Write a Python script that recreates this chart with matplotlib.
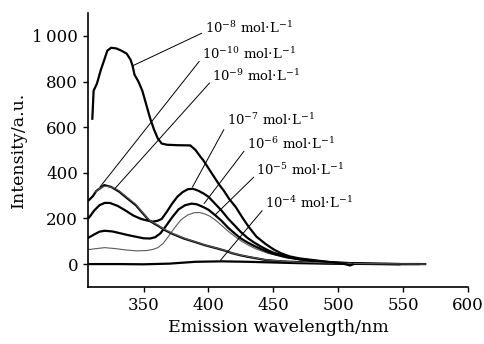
import matplotlib
matplotlib.use("Agg")
import matplotlib.pyplot as plt

# emission spectra (wavelength in nm, intensity in a.u.)
x_1e8 = [310.5, 311.5, 314, 317, 320, 322, 325, 329, 333, 337, 340, 341.5, 343, 346, 349,
         352, 355, 358, 361, 364, 368, 376, 386, 390, 394, 396, 400, 404, 408, 412, 416,
         421, 426, 431, 437, 444, 450, 456, 463, 470, 480, 490, 500, 505, 509, 511]
y_1e8 = [637, 760, 790, 850, 900, 935, 948, 945, 935, 922, 895, 869, 830, 800, 760,
         700, 640, 590, 550, 528, 523, 521, 520, 500, 469, 455, 420, 385, 350, 320, 285,
         250, 205, 163, 120, 88, 65, 47, 33, 25, 18, 11, 5, 0, -6, -2]

x_1e10 = [313, 315, 317, 320, 323, 327, 331, 337, 344, 349, 354, 358, 362, 366, 372, 381,
          390, 397, 405, 412, 418, 425, 431, 444, 456, 469, 485, 500, 520, 545, 567]
y_1e10 = [316, 325, 334, 341, 340, 333, 322, 294, 262, 228, 195, 180, 167, 152, 135, 114,
          97, 84, 72, 61, 49, 39, 32, 19, 13, 9, 6, 4, 2, 1, 0]

x_1e9 = [308, 311, 313.5, 316, 319.7, 325, 331, 337, 344, 349, 354, 358, 362, 366, 372, 381,
         390, 397, 405, 412, 418, 425, 431, 444, 456, 469, 485, 500, 520, 545, 567]
y_1e9 = [281, 298, 320, 330, 346, 338, 318, 290, 258, 225, 193, 178, 165, 150, 133, 112,
         96, 83, 71, 60, 48, 38, 31, 18, 12, 9, 5, 3, 1, 0, 0]

x_1e7 = [308, 312, 316, 320, 324, 330, 336, 342, 348, 352, 357, 361, 364, 368, 372, 376,
         380, 384, 388, 392, 396, 400, 405, 410, 415, 420, 425, 430, 435, 440, 445, 450,
         460, 470, 480, 490, 500, 515, 530, 547]
y_1e7 = [204, 235, 258, 268, 268, 255, 235, 213, 198, 192, 186, 190, 198, 230, 265, 295,
         315, 328, 330, 322, 310, 295, 265, 235, 200, 170, 140, 115, 95, 78, 63, 50,
         33, 22, 15, 10, 6, 3, 1, 0]

x_1e6 = [308, 312, 316, 320, 326, 332, 338, 344, 350, 355, 359, 363, 367, 372, 377, 382,
         387, 391, 396, 400, 405, 410, 415, 420, 425, 430, 435, 440, 445, 450, 460, 470,
         480, 490, 500, 520, 547]
y_1e6 = [117, 130, 142, 146, 143, 135, 127, 120, 113, 112, 118, 135, 165, 205, 240, 258,
         265, 262, 250, 238, 215, 190, 160, 135, 112, 95, 80, 67, 55, 45, 30, 21,
         14, 9, 6, 2, 0]

x_1e5 = [308, 314, 320, 328, 336, 344, 352, 357, 361, 365, 369, 374, 379, 384, 389, 393,
         397, 401, 406, 411, 416, 421, 426, 431, 436, 441, 446, 451, 460, 470, 480, 490,
         500, 520, 547, 562]
y_1e5 = [64, 68, 72, 68, 62, 58, 59, 64, 72, 90, 120, 160, 195, 215, 225, 226,
         220, 210, 190, 165, 140, 118, 98, 82, 68, 57, 47, 40, 28, 19, 13, 8,
         5, 2, 0, 0]

x_1e4 = [308, 330, 350, 370, 390, 410, 430, 450, 470, 490, 510, 530, 562]
y_1e4 = [0, 0, -1, 2, 10, 12, 10, 7, 4, 2, 1, 0, 0]

y_ticks = [0, 200, 400, 600, 800, 1000]
y_ticklabels = ["0", "200", "400", "600", "800", "1\u2009000"]
x_ticks = [350, 400, 450, 500, 550, 600]

plt.rcParams["font.family"] = ["DejaVu Serif"]
plt.rcParams["mathtext.fontset"] = "dejavuserif"

fig = plt.figure(figsize=(4.85, 3.44), dpi=100)
ax = fig.add_axes([0.181, 0.166, 0.784, 0.796])

thick = dict(color="black", lw=1.6)
thin = dict(color="#5a5a5a", lw=0.8)

ax.plot(x_1e4, y_1e4, **thick)
ax.plot(x_1e5, y_1e5, **thin)
ax.plot(x_1e6, y_1e6, **thick)
ax.plot(x_1e7, y_1e7, **thick)
ax.plot(x_1e9, y_1e9, **thick)
ax.plot(x_1e10, y_1e10, **thin)
ax.plot(x_1e8, y_1e8, **thick)

# labels with leader lines: (exponent, point on curve, text position)
labels = [
    ("-8", (341.6, 869), (397, 1035)),
    ("-10", (316.4, 338), (395, 921)),
    ("-9", (327.9, 331), (403, 825)),
    ("-7", (387.7, 338), (414, 629)),
    ("-6", (396.6, 265), (429.5, 528)),
    ("-5", (405, 215), (437, 410)),
    ("-4", (409.3, 17), (443.5, 266)),
]
for exp, xy, xytext in labels:
    ax.annotate(r"$10^{%s}$ mol$\cdot$L$^{-1}$" % exp, xy=xy, xytext=xytext,
                fontsize=9.5, ha="left", va="center",
                arrowprops=dict(arrowstyle="-", lw=0.7, color="black",
                                shrinkA=0, shrinkB=0, relpos=(0, 0.25)))

ax.set_xlim(307, 600)
ax.set_ylim(-100, 1100)
ax.set_xticks(x_ticks)
ax.set_yticks(y_ticks)
ax.set_yticklabels(y_ticklabels)
ax.tick_params(direction="out", length=3.5, width=1, labelsize=12)

for side in ["top", "right"]:
    ax.spines[side].set_visible(False)
for side in ["left", "bottom"]:
    ax.spines[side].set_linewidth(1.2)

ax.set_xlabel("Emission wavelength/nm", fontsize=12.5)
ax.set_ylabel("Intensity/a.u.", fontsize=12.5)

fig.savefig("out.png", dpi=100)
